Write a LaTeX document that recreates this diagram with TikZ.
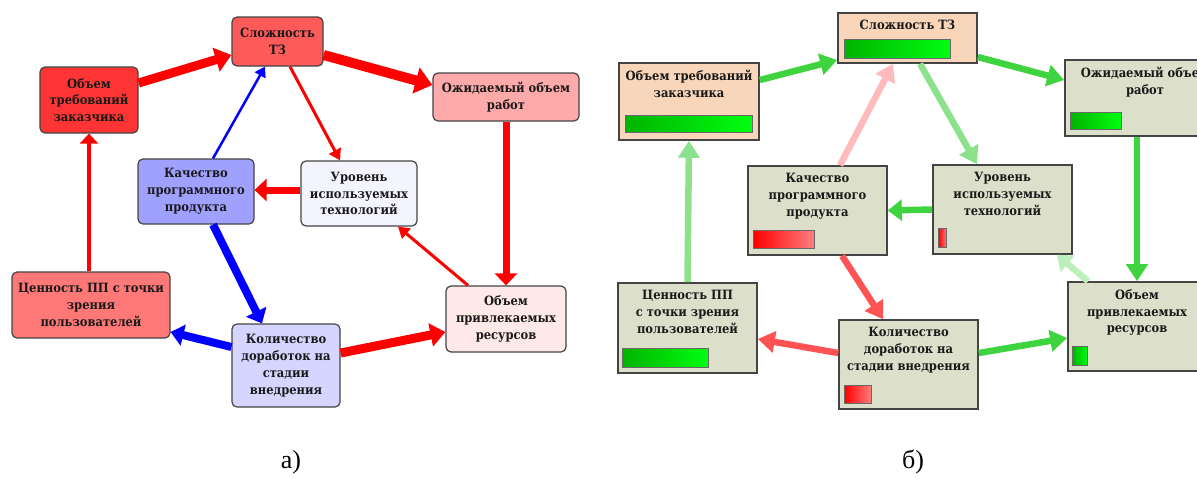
\documentclass[tikz,border=0pt]{standalone}
\usepackage{fontspec}
\setmainfont{Liberation Serif}
\newfontfamily\lbl{DejaVu Serif Condensed}
\usetikzlibrary{arrows.meta,calc}
\definecolor{cL1}{HTML}{FF5A5A}
\definecolor{cL2}{HTML}{FF3535}
\definecolor{cL3}{HTML}{FFAAAA}
\definecolor{cL4}{HTML}{A0A0FF}
\definecolor{cL5}{HTML}{F4F4FF}
\definecolor{cL6}{HTML}{FF7878}
\definecolor{cL7}{HTML}{D5D5FF}
\definecolor{cL8}{HTML}{FFE8E8}
\definecolor{peach}{HTML}{F9D6BA}
\definecolor{olive}{HTML}{DCDFCA}
\definecolor{gA}{HTML}{00B400}
\definecolor{gB}{HTML}{00FF10}
\definecolor{rA}{HTML}{FF0000}
\definecolor{rB}{HTML}{FF8080}
\definecolor{gS}{HTML}{3FD43F}
\definecolor{gL}{HTML}{8CE28C}
\definecolor{gVL}{HTML}{BDEFBD}
\definecolor{pk}{HTML}{FFBBBB}
\definecolor{rd}{HTML}{FF5252}
\definecolor{bord}{HTML}{444444}
\tikzset{
  lbox/.style={draw=bord, line width=1.2pt, rounded corners=5pt, align=center, inner sep=0pt,
    font=\lbl\bfseries\fontsize{12.8}{16.8}\selectfont, text=black!90},
  rbox/.style={draw=bord, line width=1.6pt, inner sep=0pt},
  rtxt/.style={align=center, inner sep=0pt, anchor=north,
    font=\lbl\bfseries\fontsize{12.8}{16.8}\selectfont, text=black!90},
  gbar/.style={draw=bord!80, line width=0.8pt, left color=gA, right color=gB, inner sep=0pt, anchor=north west},
  rbar/.style={draw=bord!80, line width=0.8pt, left color=rA, right color=rB, inner sep=0pt, anchor=north west},
  ar/.style args={#1/#2/#3}{line width=#1, -{Triangle[length=#2, width=#3]}},
  captxt/.style={font=\fontsize{26}{30}\selectfont}
}
\begin{document}
\begin{tikzpicture}[x=1pt,y=-1pt]
\useasboundingbox (0,0) rectangle (1197,479);
% ---------- left diagram ----------
\node[lbox, fill=cL1, minimum width=91pt, minimum height=49pt] (L1) at (277.5,41.5) {Сложность\\ТЗ};
\node[lbox, fill=cL2, minimum width=98pt, minimum height=66pt] (L2) at (89,100) {Объем\\требований\\заказчика};
\node[lbox, fill=cL3, minimum width=146pt, minimum height=48pt] (L3) at (506,97) {Ожидаемый объем\\работ};
\node[lbox, fill=cL4, minimum width=116pt, minimum height=65pt] (L4) at (196,191.5) {Качество\\программного\\продукта};
\node[lbox, fill=cL5, minimum width=116pt, minimum height=65pt] (L5) at (359,193.5) {Уровень\\используемых\\технологий};
\node[lbox, fill=cL6, minimum width=158pt, minimum height=66pt] (L6) at (91,305) {Ценность ПП с точки\\зрения\\пользователей};
\node[lbox, fill=cL7, minimum width=108pt, minimum height=83pt] (L7) at (286,365.5) {Количество\\доработок на\\стадии\\внедрения};
\node[lbox, fill=cL8, minimum width=120pt, minimum height=66pt] (L8) at (506,319) {Объем\\привлекаемых\\ресурсов};

\draw[red, ar=9pt/16pt/24pt] ([yshift=17pt]L2.east) -- ([yshift=-13.5pt]L1.west);
\draw[red, ar=10pt/17pt/26pt] ([yshift=-13.5pt]L1.east) -- ([yshift=12pt]L3.west);
\draw[red, ar=3pt/11pt/13pt] ([xshift=12.5pt]L1.south) -- ([xshift=-19pt]L5.north);
\draw[blue, ar=2.5pt/10pt/12pt] ([xshift=17pt]L4.north) -- ([xshift=-12.5pt]L1.south);
\draw[red, ar=7pt/12pt/22pt] ([yshift=3.5pt]L5.west) -- ([yshift=1.5pt]L4.east);
\draw[red, ar=7pt/12pt/22pt] (L3.south) -- (L8.north);
\draw[red, ar=3pt/11pt/13pt] ([xshift=-38pt]L8.north) -- ([xshift=39pt]L5.south);
\draw[blue, ar=8pt/13pt/22pt] ([xshift=17pt]L4.south) -- ([xshift=-24pt]L7.north);
\draw[blue, ar=8pt/13pt/21pt] ([yshift=18.5pt]L7.west) -- ([yshift=-27pt]L6.east);
\draw[red, ar=9pt/15pt/23pt] ([yshift=12.5pt]L7.east) -- ([yshift=-13pt]L8.west);
\draw[red, ar=4.5pt/10pt/18pt] ([xshift=-2pt]L6.north) -- (L2.south);

% ---------- right diagram ----------
\node[rbox, fill=peach, minimum width=139pt, minimum height=50pt] (R1) at (907.5,38) {};
\node[rbox, fill=peach, minimum width=140pt, minimum height=77pt] (R2) at (689,101.5) {};
\node[rbox, fill=olive, minimum width=160pt, minimum height=76pt] (R3) at (1145,98) {};
\node[rbox, fill=olive, minimum width=139pt, minimum height=89pt] (R4) at (817.5,210.5) {};
\node[rbox, fill=olive, minimum width=139pt, minimum height=89pt] (R5) at (1002.5,209.5) {};
\node[rbox, fill=olive, minimum width=139pt, minimum height=90pt] (R6) at (687.5,328) {};
\node[rbox, fill=olive, minimum width=139pt, minimum height=89pt] (R7) at (908.5,364.5) {};
\node[rbox, fill=olive, minimum width=138pt, minimum height=89pt] (R8) at (1137,326.5) {};

\node[rtxt] (R1t) at ([yshift=-8pt]R1.north) {Сложность ТЗ};
\node[rtxt] (R2t) at ([yshift=-8pt]R2.north) {Объем требований\\заказчика};
\node[rtxt] (R3t) at ([yshift=-8pt]R3.north) {Ожидаемый объем\\работ};
\node[rtxt] (R4t) at ([yshift=-8pt]R4.north) {Качество\\программного\\продукта};
\node[rtxt] (R5t) at ([yshift=-8pt]R5.north) {Уровень\\используемых\\технологий};
\node[rtxt] (R6t) at ([yshift=-8pt]R6.north) {Ценность ПП\\с точки зрения\\пользователей};
\node[rtxt] (R7t) at ([yshift=-8pt]R7.north) {Количество\\доработок на\\стадии внедрения};
\node[rtxt] (R8t) at ([yshift=-8pt]R8.north) {Объем\\привлекаемых\\ресурсов};

\node[gbar, minimum width=106pt, minimum height=19pt] (R1b) at ([xshift=7pt,yshift=-27pt]R1.north west) {};
\node[gbar, minimum width=127pt, minimum height=17pt] (R2b) at ([xshift=7pt,yshift=-53pt]R2.north west) {};
\node[gbar, minimum width=51pt, minimum height=17pt] (R3b) at ([xshift=6pt,yshift=-53pt]R3.north west) {};
\node[rbar, minimum width=61pt, minimum height=18pt] (R4b) at ([xshift=6pt,yshift=-65pt]R4.north west) {};
\node[rbar, minimum width=8pt, minimum height=19pt] (R5b) at ([xshift=6pt,yshift=-64pt]R5.north west) {};
\node[gbar, minimum width=86pt, minimum height=19pt] (R6b) at ([xshift=5pt,yshift=-66pt]R6.north west) {};
\node[rbar, minimum width=27pt, minimum height=18pt] (R7b) at ([xshift=6pt,yshift=-66pt]R7.north west) {};
\node[gbar, minimum width=15pt, minimum height=19pt] (R8b) at ([xshift=5pt,yshift=-65pt]R8.north west) {};

\draw[gS, ar=6.5pt/17pt/21pt] ([yshift=21.5pt]R2.east) -- ([yshift=-22pt]R1.west);
\draw[gS, ar=6.5pt/17pt/21pt] ([yshift=-19pt]R1.east) -- ([yshift=18pt]R3.west);
\draw[gL, ar=6.5pt/17pt/21pt] ([xshift=12.5pt]R1.south) -- ([xshift=-25.5pt]R5.north);
\draw[pk, ar=6.5pt/17pt/21pt] ([xshift=22.5pt]R4.north) -- ([xshift=-14.5pt]R1.south);
\draw[gS, ar=6.5pt/14pt/21pt] (R5.west) -- (R4.east);
\draw[gS, ar=6.5pt/17pt/21pt] ([xshift=-8pt]R3.south) -- (R8.north);
\draw[gVL, ar=6.5pt/14pt/21pt] ([xshift=-49pt]R8.north) -- ([xshift=54.5pt]R5.south);
\draw[rd, ar=6.5pt/17pt/21pt] ([xshift=24.5pt]R4.south) -- ([xshift=-25.5pt]R7.north);
\draw[rd, ar=6.5pt/17pt/21pt] ([yshift=11.5pt]R7.west) -- ([yshift=-11pt]R6.east);
\draw[gS, ar=6.5pt/17pt/21pt] ([yshift=11.5pt]R7.east) -- ([yshift=-11.5pt]R8.west);
\draw[gL, ar=6.5pt/17pt/21pt] (R6.north) -- (R2.south);

% ---------- captions ----------
\node[captxt] (ca) at (291,462) {а)};
\node[captxt] (cb) at (913,462) {б)};
\end{tikzpicture}
\end{document}
